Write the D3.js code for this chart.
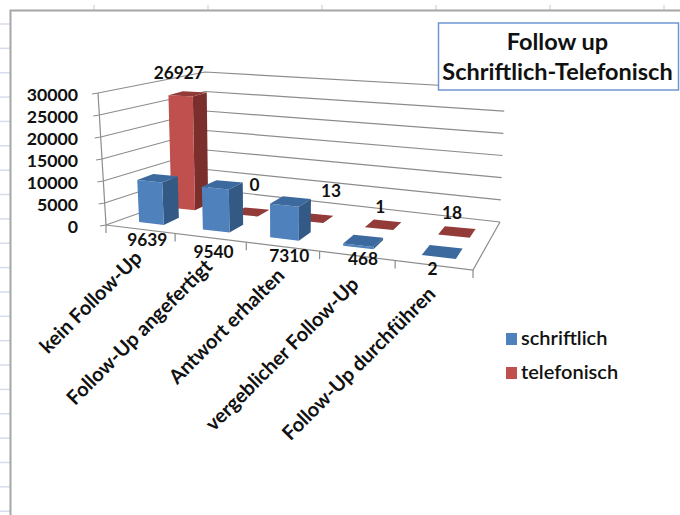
<!DOCTYPE html>
<html>
<head>
<meta charset="utf-8">
<script src="https://cdn.jsdelivr.net/npm/d3@7"></script>
<style>
html, body { margin: 0; padding: 0; background: #fff; }
svg { display: block; }
text { font-family: Lato, "Open Sans", sans-serif; fill: #111; }
</style>
</head>
<body>
<svg id="chart" width="680" height="515"></svg>
<script>
const categories = ["kein Follow-Up", "Follow-Up angefertigt", "Antwort erhalten", "vergeblicher Follow-Up", "Follow-Up durchführen"];
const seriesNames = ["schriftlich", "telefonisch"];
const schriftlich = [9639, 9540, 7310, 468, 2];
const telefonisch = [26927, 0, 13, 1, 18];
const yTicks = [0, 5000, 10000, 15000, 20000, 25000, 30000];
const titleLines = ["Follow up", "Schriftlich-Telefonisch"];

// label nudges, excel places these by hand-ish
const blueNudge = [[0, 1], [1, 5], [9, 1], [9, -5], [-2, -4]];
const redNudge = [[-9, -2], [3, -8], [16, -8], [-3, 1], [-5, 0]];

const svg = d3.select("#chart");

// box corners on screen, [u, v] = (0,0) (1,0) (1,1) (0,1)
const floorCorners = [[106, 225], [473, 270], [500, 222], [207, 189]];
const ceilCorners = [[98, 93], [479, 118], [505, 89], [205, 72]];
// bars sit a little off the wall box, the back left corner is pulled in
const barFloorCorners = [[106, 225], [473, 270], [500, 222], [180, 194]];
const barCeilCorners = [[98, 93], [479, 118], [505, 89], [178, 74]];

const homography = (q) => {
    let [p0, p1, p2, p3] = q;
    let dx1 = p1[0] - p2[0], dx2 = p3[0] - p2[0], sx = p0[0] - p1[0] + p2[0] - p3[0];
    let dy1 = p1[1] - p2[1], dy2 = p3[1] - p2[1], sy = p0[1] - p1[1] + p2[1] - p3[1];
    let den = dx1 * dy2 - dx2 * dy1;
    let g = (sx * dy2 - dx2 * sy) / den, h = (dx1 * sy - sx * dy1) / den;
    let a = p1[0] - p0[0] + g * p1[0], b = p3[0] - p0[0] + h * p3[0];
    let d = p1[1] - p0[1] + g * p1[1], e = p3[1] - p0[1] + h * p3[1];
    return (u, v) => {
        let w = g * u + h * v + 1;
        return [(a * u + b * v + p0[0]) / w, (d * u + e * v + p0[1]) / w];
    };
};
const floorAt = homography(floorCorners);
const ceilAt = homography(ceilCorners);
const barFloorAt = homography(barFloorCorners);
const barCeilAt = homography(barCeilCorners);

const yScale = d3.scaleLinear().domain([0, 30000]).range([0, 1]);
const uScale = d3.scaleBand().domain(categories).range([0, 1]).paddingInner(0.6).paddingOuter(0.3);
const vScale = d3.scaleBand().domain(seriesNames).range([0, 0.93]).paddingInner(0.535).paddingOuter(0.349);
// pulled-in corner bends u a bit, push the middle bars back to the right
const uWarp = d3.scaleLinear().domain([0, 0.3, 0.6, 1]).range([0.01, 0.333, 0.633, 1.01]);

const lift = (a, b, val) => {
    let t = yScale(val);
    return [a[0] + (b[0] - a[0]) * t, a[1] + (b[1] - a[1]) * t];
};
const project = (u, v, val) => lift(floorAt(u, v), ceilAt(u, v), val);
const projectBar = (u, v, val) => lift(barFloorAt(uWarp(u), v), barCeilAt(uWarp(u), v), val);
const pts = (arr) => arr.map(p => p.join(",")).join(" ");

// spreadsheet frame behind the chart
const sheet = svg.append("g");
sheet.selectAll("line.row").data(d3.range(0, 21)).enter().append("line")
    .attr("x1", 0).attr("x2", 10)
    .attr("y1", d => 24 + d * 24.36).attr("y2", d => 24 + d * 24.36)
    .attr("stroke", "#d5dcec").attr("stroke-width", 1.5);
sheet.selectAll("line.col").data(d3.range(0, 6)).enter().append("line")
    .attr("x1", d => 94 + d * 114).attr("x2", d => 94 + d * 114)
    .attr("y1", 5).attr("y2", 10)
    .attr("stroke", "#d5dcec").attr("stroke-width", 1.5);
sheet.append("path").attr("d", "M10.5,515V10.5H680").attr("fill", "none").attr("stroke", "#a6a6a6").attr("stroke-width", 2);

const gridColor = "#8c8c8c";
const grid = svg.append("g").attr("fill", "none").attr("stroke", gridColor).attr("stroke-width", 1.2);

// gridlines on side and back wall
yTicks.forEach(t => {
    let a = project(0, 0, t), b = project(0, 1, t), c = project(1, 1, t);
    grid.append("polyline").attr("points", pts([[a[0] - 6, a[1] + 1], a, b, c]));
});
// wall edges
grid.append("line").attr("x1", project(0, 0, 0)[0]).attr("y1", project(0, 0, 0)[1])
    .attr("x2", project(0, 0, 30000)[0]).attr("y2", project(0, 0, 30000)[1]);
// floor outline
grid.append("polyline").attr("points", pts([floorAt(0, 0), floorAt(1, 0), floorAt(1, 1)]));
// ticks on the front edge
d3.range(0, 6).forEach(i => {
    let p = floorAt(i / 5, 0);
    grid.append("line").attr("x1", p[0]).attr("y1", p[1]).attr("x2", p[0]).attr("y2", p[1] + 8);
});

const colors = {
    schriftlich: { front: "#4f81bd", side: "#325a85", top: "#3d6a9e" },
    telefonisch: { front: "#c0504d", side: "#7b2f2d", top: "#933b38" }
};

const drawBar = (g, cat, name, val) => {
    let u0 = uScale(cat), u1 = u0 + uScale.bandwidth();
    let v0 = vScale(name), v1 = v0 + vScale.bandwidth();
    let c = colors[name];
    g.append("polygon").attr("fill", c.side)
        .attr("points", pts([projectBar(u1, v0, 0), projectBar(u1, v1, 0), projectBar(u1, v1, val), projectBar(u1, v0, val)]));
    g.append("polygon").attr("fill", c.front)
        .attr("points", pts([projectBar(u0, v0, 0), projectBar(u1, v0, 0), projectBar(u1, v0, val), projectBar(u0, v0, val)]));
    g.append("polygon").attr("fill", c.top)
        .attr("points", pts([projectBar(u0, v0, val), projectBar(u1, v0, val), projectBar(u1, v1, val), projectBar(u0, v1, val)]));
};

const bars = svg.append("g");
telefonisch.forEach((val, i) => drawBar(bars, categories[i], "telefonisch", val));
schriftlich.forEach((val, i) => drawBar(bars, categories[i], "schriftlich", val));

// value labels
const labels = svg.append("g").attr("font-size", 17.3).attr("font-weight", 700).attr("text-anchor", "middle");
categories.forEach((cat, i) => {
    let uc = uScale(cat) + uScale.bandwidth() / 2;
    let front = projectBar(uc, vScale("schriftlich"), 0);
    labels.append("text").attr("x", front[0] - 4 + blueNudge[i][0]).attr("y", front[1] + 22 + blueNudge[i][1]).text(schriftlich[i]);
    let vc = vScale("telefonisch") + vScale.bandwidth() / 2;
    let top = projectBar(uc, vc, telefonisch[i]);
    labels.append("text").attr("x", top[0] + redNudge[i][0]).attr("y", top[1] - 13 + redNudge[i][1]).text(telefonisch[i]);
});

// y axis labels
const yLabels = svg.append("g").attr("font-size", 17.7).attr("font-weight", 700).attr("text-anchor", "end");
yTicks.forEach(t => {
    let p = project(0, 0, t);
    yLabels.append("text").attr("x", 78).attr("y", p[1] + 8).text(t);
});

// category labels
const catLabels = svg.append("g").attr("font-size", 20).attr("font-weight", 700).attr("text-anchor", "end");
categories.forEach((cat) => {
    let p = floorAt(uScale(cat) + uScale.bandwidth() / 2, 0);
    catLabels.append("text")
        .attr("transform", `translate(${p[0] + 3},${p[1] + 30}) rotate(-45)`)
        .text(cat);
});

// title box
svg.append("rect").attr("x", 438.5).attr("y", 23).attr("width", 240).attr("height", 67)
    .attr("fill", "#fff").attr("stroke", "#6f97cf").attr("stroke-width", 1.5);
svg.append("g").attr("font-size", 23.5).attr("font-weight", 700).attr("text-anchor", "middle")
    .selectAll("text").data(titleLines).enter().append("text")
    .attr("x", 557.5).attr("y", (d, i) => 50 + i * 30).text(d => d);

// legend
const legendY = d3.scalePoint().domain(seriesNames).range([339, 373]);
const legend = svg.append("g").selectAll("g").data(seriesNames).enter().append("g");
legend.append("rect").attr("x", 506).attr("y", d => legendY(d) - 6).attr("width", 11).attr("height", 12)
    .attr("fill", d => colors[d].front);
legend.append("text").attr("x", 521).attr("y", d => legendY(d) + 6)
    .attr("font-size", 20).attr("font-weight", 600).text(d => d);
</script>
</body>
</html>
